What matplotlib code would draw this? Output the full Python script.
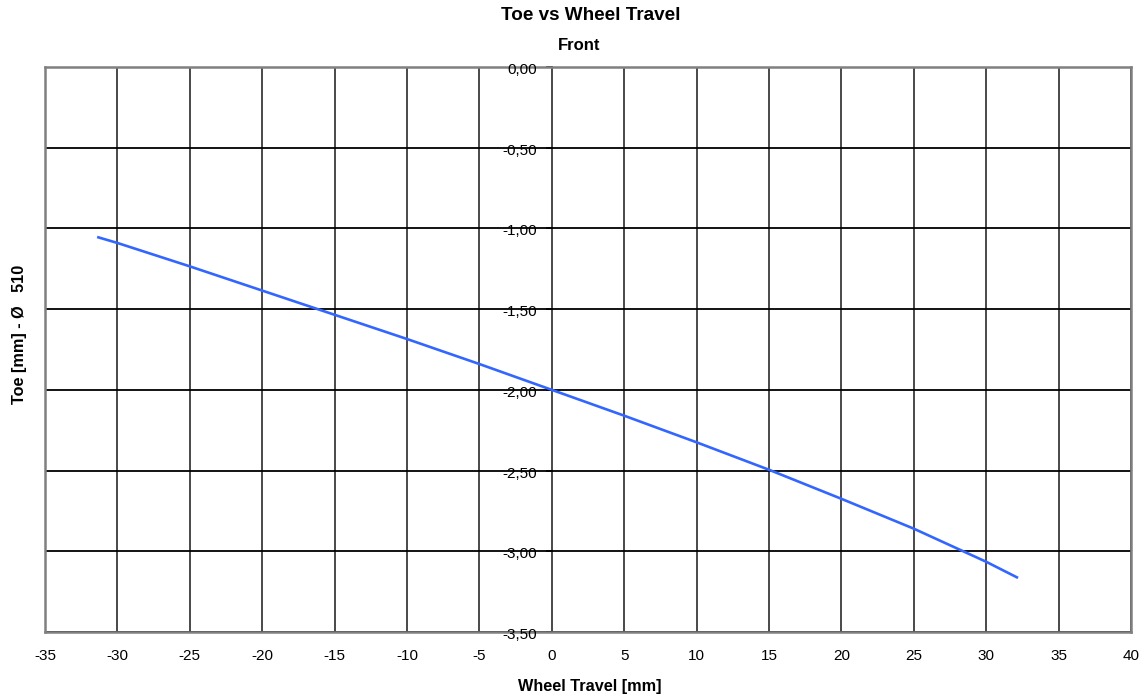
import matplotlib
matplotlib.use("Agg")
import matplotlib.pyplot as plt
import matplotlib.transforms as mtransforms
import numpy as np

plt.rcParams['font.family'] = ['Liberation Sans', 'DejaVu Sans']

# Data
wheel_travel = [-31.4, -30, -25, -20, -15, -10, -5, 0, 5, 10, 15, 20, 25, 30, 32.2]
toe = [-1.053, -1.09, -1.235, -1.385, -1.535, -1.685, -1.84, -2.00, -2.16, -2.325,
       -2.495, -2.675, -2.86, -3.065, -3.165]
x_ticks = [-35, -30, -25, -20, -15, -10, -5, 0, 5, 10, 15, 20, 25, 30, 35, 40]
y_ticks = [0.0, -0.5, -1.0, -1.5, -2.0, -2.5, -3.0, -3.5]
y_tick_labels = ["0,00", "-0,50", "-1,00", "-1,50", "-2,00", "-2,50", "-3,00", "-3,50"]

title = "Toe vs Wheel Travel"
subtitle = "Front"
xlabel = "Wheel Travel [mm]"
ylabel = "Toe [mm] - Ø   510"

W, H = 1148, 700
fig = plt.figure(figsize=(W / 100, H / 100), dpi=100)
L, R, T, B = 45, 1131, 67, 632
ax = fig.add_axes([L / W, 1 - B / H, (R - L) / W, (B - T) / H])

ax.set_xlim(-35, 40)
ax.set_ylim(-3.5, 0)

# grid lines
for xv in x_ticks:
    ax.axvline(xv, color='#3a3a3a', lw=1.3, zorder=1)
for yv in y_ticks:
    ax.axhline(yv, color='#000000', lw=1.3, zorder=1)

ax.plot(wheel_travel, toe, color='#3366ff', lw=1.9, zorder=3, solid_capstyle='butt')

for s in ax.spines.values():
    s.set_color('#808080')
    s.set_linewidth(1.8)
    s.set_zorder(2)

ax.set_xticks(x_ticks)
ax.set_xticklabels([str(v) for v in x_ticks], fontsize=11)
ax.tick_params(axis='x', length=0, pad=12)
ax.set_yticks([])

# y tick labels next to x=0, shifted slightly down
shift = mtransforms.ScaledTranslation(0, -3 / 100, fig.dpi_scale_trans)
for yv, lab in zip(y_ticks, y_tick_labels):
    ax.text(-1.0, yv, lab, ha='right', va='center', fontsize=11,
            transform=ax.transData + shift, zorder=4)
    ax.plot([-0.35, 0], [yv, yv], color='#000000', lw=1.3, clip_on=False, zorder=2)

fig.text(591 / W, 1 - 16 / H, title, ha='center', va='center', fontsize=13.6, fontweight='bold')
fig.text(579 / W, 1 - 46 / H, subtitle, ha='center', va='center', fontsize=12, fontweight='bold')
fig.text(590 / W, 1 - 686 / H, xlabel, ha='center', va='center', fontsize=11.7, fontweight='bold')
fig.text(20 / W, 1 - 334 / H, ylabel, ha='center', va='center', rotation=90,
         fontsize=11.7, fontweight='bold')

fig.savefig('out.png', dpi=100, facecolor='white')
